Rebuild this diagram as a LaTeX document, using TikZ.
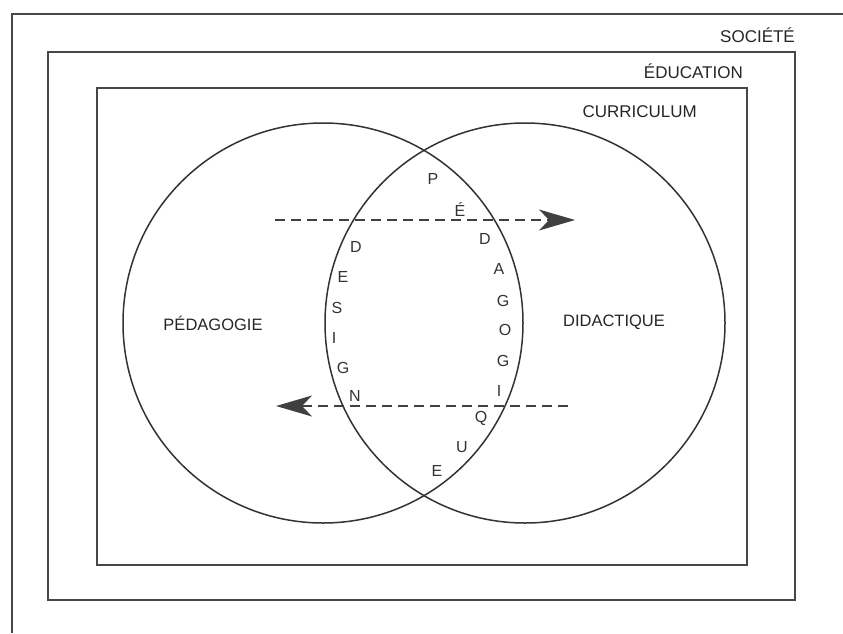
\documentclass[tikz,border=0pt]{standalone}
\usepackage{fontspec}
\setmainfont{Liberation Sans}
\usetikzlibrary{arrows.meta}
\begin{document}
\begin{tikzpicture}[x=1pt,y=-1pt,
  frame/.style={draw=black!72, line width=1.6pt},
  ring/.style={draw=black!80, line width=1.5pt},
  flow/.style={draw=black!75, line width=1.3pt, dash pattern=on 10pt off 6pt,
    -{Stealth[length=36pt,width=21pt,inset=10pt]}},
  tag/.style={font=\fontsize{17}{17}\selectfont, text=black!85, inner sep=0pt},
  field/.style={font=\fontsize{16.5}{16.5}\selectfont, text=black!85, inner sep=0pt},
  letter/.style={font=\fontsize{16}{16}\selectfont, text=black!80, inner sep=0pt}]
\useasboundingbox (0,0) rectangle (843,633);
\fill[white] (0,0) rectangle (843,633);

% nested frames: society, education, curriculum
\draw[frame] (843,14) -- (12,14) -- (12,633);
\draw[frame] (48,52) rectangle (795,600);
\draw[frame] (97,88) rectangle (747,565);

\node[tag, anchor=east] (societe) at (795,35) {SOCIÉTÉ};
\node[tag, anchor=east] (education) at (743,71) {ÉDUCATION};
\node[tag, anchor=east] (curriculum) at (697,112) {CURRICULUM};

% the two overlapping fields
\node[ring, circle, minimum size=400pt, inner sep=0pt] (pedacircle) at (323,323) {};
\node[ring, circle, minimum size=400pt, inner sep=0pt] (didacircle) at (525,323) {};

\node[field] (pedagogie) at (213,323) {PÉDAGOGIE};
\node[field] (didactique) at (614,322) {DIDACTIQUE};

% exchanges between the two fields
\coordinate (topstart) at (275,220);
\coordinate (topend) at (575,220);
\coordinate (botstart) at (568,406);
\coordinate (botend) at (276,406);
\draw[flow] (topstart) -- (topend);
\draw[flow] (botstart) -- (botend);

% DESIGN along the left edge of the lens
\foreach \ch/\px/\py [count=\i] in {D/356/247, E/343/277, S/337/308, I/334/338, G/343/368, N/355/396}
  \node[letter] (design\i) at (\px,\py) {\ch};

% PÉDAGOGIQUE along the right edge of the lens
\foreach \ch/\px/\py [count=\i] in {P/433/179, É/460/210, D/485/239, A/499/269, G/503/301,
    O/505/330, G/503/361, I/499/391, Q/481/418, U/462/447, E/437/471}
  \node[letter] (pedago\i) at (\px,\py) {\ch};
\end{tikzpicture}
\end{document}
